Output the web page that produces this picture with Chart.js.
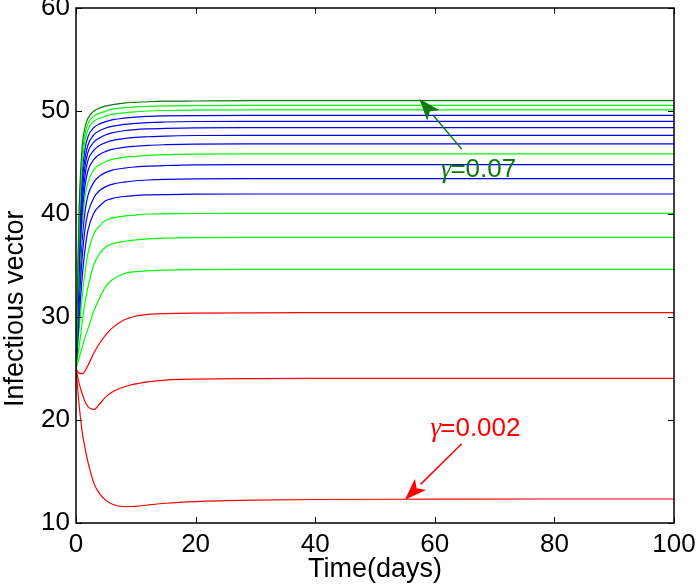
<!DOCTYPE html>
<html>
<head>
<meta charset="utf-8">
<script src="https://cdn.jsdelivr.net/npm/chart.js@4.4.1/dist/chart.umd.min.js"></script>
<style>
  html, body { margin: 0; padding: 0; background: #fff; }
  #wrap { width: 696px; height: 586px; position: relative; }
</style>
</head>
<body>
<div id="wrap"><canvas id="c" width="696" height="586"></canvas></div>
<script>
// time samples (days)
const times = [0, 0.5, 1, 1.5, 2, 3, 4, 5, 6, 8, 10, 12, 15, 20, 30, 40, 60, 80, 100];

// series values (top to bottom at t = 100)
const curve01 = [25, 40.1, 46.3, 48.4, 49.3, 50.0, 50.3, 50.5, 50.6, 50.77, 50.84, 50.9, 50.95, 50.97, 51.0, 51.0, 51.0, 51.0, 51.0];
const curve02 = [25, 39.1, 45.4, 47.7, 48.8, 49.5, 49.8, 50.0, 50.17, 50.3, 50.4, 50.45, 50.5, 50.52, 50.55, 50.55, 50.55, 50.55, 50.55];
const curve03 = [25, 38.3, 44.6, 47.1, 48.2, 49.0, 49.3, 49.5, 49.67, 49.82, 49.92, 50.0, 50.05, 50.08, 50.1, 50.1, 50.1, 50.1, 50.1];
const curve04 = [25, 37.3, 43.7, 46.3, 47.5, 48.4, 48.75, 48.97, 49.14, 49.3, 49.41, 49.48, 49.53, 49.56, 49.58, 49.58, 49.58, 49.58, 49.58];
const curve05 = [25, 36.5, 42.8, 45.4, 46.7, 47.7, 48.1, 48.35, 48.5, 48.7, 48.8, 48.88, 48.93, 48.98, 49.0, 49.0, 49.0, 49.0, 49.0];
const curve06 = [25, 35.8, 41.8, 44.6, 46.0, 47.0, 47.4, 47.7, 47.87, 48.08, 48.2, 48.26, 48.31, 48.36, 48.38, 48.38, 48.38, 48.38, 48.38];
const curve07 = [25, 35.0, 40.8, 43.7, 45.2, 46.2, 46.67, 46.94, 47.12, 47.32, 47.44, 47.5, 47.57, 47.62, 47.64, 47.64, 47.64, 47.64, 47.64];
const curve08 = [25, 34.2, 39.8, 42.7, 44.2, 45.3, 45.8, 46.08, 46.28, 46.47, 46.58, 46.67, 46.73, 46.78, 46.8, 46.8, 46.8, 46.8, 46.8];
const curve09 = [25, 33.3, 38.7, 41.6, 43.1, 44.3, 44.8, 45.1, 45.3, 45.5, 45.6, 45.7, 45.77, 45.81, 45.83, 45.83, 45.83, 45.83, 45.83];
const curve10 = [25, 32.3, 37.3, 40.2, 41.8, 43.1, 43.7, 44.04, 44.24, 44.45, 44.57, 44.65, 44.71, 44.77, 44.79, 44.79, 44.79, 44.79, 44.79];
const curve11 = [25, 31.1, 35.5, 38.5, 40.1, 41.6, 42.3, 42.66, 42.88, 43.1, 43.23, 43.3, 43.36, 43.41, 43.43, 43.43, 43.43, 43.43, 43.43];
const curve12 = [25, 29.7, 33.6, 36.5, 38.4, 40.1, 40.8, 41.3, 41.5, 41.7, 41.8, 41.86, 41.89, 41.92, 41.94, 41.94, 41.94, 41.94, 41.94];
const curve13 = [25, 28.6, 31.8, 34.3, 36.2, 38.1, 38.9, 39.4, 39.6, 39.8, 39.9, 40.0, 40.02, 40.05, 40.07, 40.07, 40.07, 40.07, 40.07];
const curve14 = [25, 27.0, 29.3, 31.4, 32.9, 35.1, 36.2, 36.8, 37.1, 37.33, 37.49, 37.59, 37.66, 37.71, 37.74, 37.74, 37.74, 37.74, 37.74];
const curve15 = [25, 25.96, 27.0, 28.0, 28.85, 30.6, 31.9, 33.0, 33.6, 34.2, 34.4, 34.49, 34.55, 34.6, 34.63, 34.63, 34.63, 34.63, 34.63];
const curve16 = [25, 24.55, 24.5, 24.75, 25.3, 26.5, 27.5, 28.3, 28.9, 29.7, 30.1, 30.25, 30.33, 30.38, 30.41, 30.42, 30.42, 30.42, 30.42];
const curve17 = [25, 23.6, 22.6, 21.8, 21.3, 21.0, 21.6, 22.25, 22.7, 23.2, 23.5, 23.7, 23.88, 23.97, 24.02, 24.04, 24.05, 24.05, 24.05];
const curve18 = [25, 21.6, 19.0, 17.3, 15.9, 13.85, 12.8, 12.2, 11.85, 11.6, 11.62, 11.75, 11.92, 12.08, 12.22, 12.28, 12.31, 12.33, 12.33];

const allCurves = [curve01, curve02, curve03, curve04, curve05, curve06, curve07, curve08, curve09,
                   curve10, curve11, curve12, curve13, curve14, curve15, curve16, curve17, curve18];
const curveColorKeys = ['dg','g','g','b','b','b','b','b','g','b','b','b','g','g','g','r','r','r'];

const xTicks = [0, 20, 40, 60, 80, 100];
const yTicks = [10, 20, 30, 40, 50, 60];
const yTitle = 'Infectious vector';
const yTitleCenterValue = 30.8;   // where the y label sits along the axis

// annotations (data coordinates)
const annoHigh = { label: '=0.07', from: [64.5, 46.3], to: [57.4, 51.2], textAt: [61.0, 43.6] };
const annoLow  = { label: '=0.002', from: [64.5, 17.7], to: [55.0, 12.25], textAt: [59.3, 18.45] };

const palette = { dg: '#0a7a0a', g: '#00ff00', b: '#0000ff', r: '#ff0000' };
const FONT = '"Liberation Sans", Arial, Helvetica, sans-serif';

const datasets = allCurves.map((vals, i) => ({
  data: times.map((t, j) => ({ x: t, y: vals[j] })),
  borderColor: palette[curveColorKeys[i]],
  borderWidth: 1.2,
  pointRadius: 0,
  fill: false,
  cubicInterpolationMode: 'monotone'
}));

function arrow(ctx, x1, y1, x2, y2, color, len, half) {
  ctx.save();
  ctx.strokeStyle = color; ctx.fillStyle = color; ctx.lineWidth = 1.5;
  const a = Math.atan2(y2 - y1, x2 - x1);
  const bx = x2 - len * Math.cos(a), by = y2 - len * Math.sin(a);
  ctx.beginPath(); ctx.moveTo(x1, y1); ctx.lineTo(bx, by); ctx.stroke();
  ctx.beginPath();
  ctx.moveTo(x2, y2);
  ctx.lineTo(bx + half * Math.sin(a), by - half * Math.cos(a));
  ctx.lineTo(x2 - 0.75 * len * Math.cos(a), y2 - 0.75 * len * Math.sin(a));
  ctx.lineTo(bx - half * Math.sin(a), by + half * Math.cos(a));
  ctx.closePath(); ctx.fill();
  ctx.restore();
}

const framePlugin = {
  id: 'frame',
  afterDatasetsDraw(chart) {
    const { ctx, chartArea: ca, scales } = chart;
    const xs = scales.x, ys = scales.y;
    ctx.save();
    ctx.strokeStyle = '#000'; ctx.lineWidth = 1.5;
    ctx.strokeRect(ca.left, ca.top, ca.right - ca.left, ca.bottom - ca.top);
    ctx.lineWidth = 1;
    const tl = 6;
    ctx.beginPath();
    xTicks.forEach(v => {
      const px = Math.round(xs.getPixelForValue(v)) + 0.5;
      ctx.moveTo(px, ca.bottom); ctx.lineTo(px, ca.bottom - tl);
      ctx.moveTo(px, ca.top); ctx.lineTo(px, ca.top + tl);
    });
    yTicks.forEach(v => {
      const py = Math.round(ys.getPixelForValue(v)) + 0.5;
      ctx.moveTo(ca.left, py); ctx.lineTo(ca.left + tl, py);
      ctx.moveTo(ca.right, py); ctx.lineTo(ca.right - tl, py);
    });
    ctx.stroke();
    ctx.restore();

    // y axis label
    ctx.save();
    ctx.translate(23, ys.getPixelForValue(yTitleCenterValue));
    ctx.rotate(-Math.PI / 2);
    ctx.fillStyle = '#000';
    ctx.font = '27px ' + FONT;
    ctx.textAlign = 'center';
    ctx.textBaseline = 'alphabetic';
    ctx.fillText(yTitle, 0, 0);
    ctx.restore();

    // annotations
    const drawAnno = (an, color) => {
      arrow(ctx, xs.getPixelForValue(an.from[0]), ys.getPixelForValue(an.from[1]),
            xs.getPixelForValue(an.to[0]), ys.getPixelForValue(an.to[1]), color, 22, 8);
      ctx.save();
      ctx.fillStyle = color;
      ctx.textBaseline = 'alphabetic';
      let tx = xs.getPixelForValue(an.textAt[0]);
      const ty = ys.getPixelForValue(an.textAt[1]);
      ctx.font = 'italic 27px "Liberation Serif", "DejaVu Serif", serif';
      ctx.fillText('γ', tx, ty);
      tx += ctx.measureText('γ').width - 1;
      ctx.font = '26px ' + FONT;
      ctx.fillText(an.label, tx, ty);
      ctx.restore();
    };
    drawAnno(annoHigh, '#0a7a0a');
    drawAnno(annoLow, '#ff0000');
  }
};

new Chart(document.getElementById('c'), {
  type: 'line',
  data: { datasets },
  options: {
    responsive: false,
    animation: false,
    events: [],
    layout: { padding: { top: 8, right: 22, left: 0, bottom: 0 } },
    plugins: { legend: { display: false }, tooltip: { enabled: false } },
    scales: {
      x: {
        type: 'linear', min: 0, max: 100,
        afterBuildTicks: s => { s.ticks = xTicks.map(v => ({ value: v })); },
        afterFit: s => { s.height = 63; s.paddingLeft = 0; s.paddingRight = 0; },
        grid: { display: false, drawTicks: false },
        border: { display: false },
        ticks: { color: '#000', font: { family: FONT, size: 26 }, padding: 6, maxRotation: 0 },
        title: { display: true, text: 'Time(days)', color: '#000', font: { family: FONT, size: 27 }, padding: { top: -5, bottom: 0 } }
      },
      y: {
        type: 'linear', min: 10, max: 60,
        afterBuildTicks: s => { s.ticks = yTicks.map(v => ({ value: v })); },
        afterFit: s => { s.width = 76; s.paddingTop = 0; s.paddingBottom = 0; },
        grid: { display: false, drawTicks: false },
        border: { display: false },
        ticks: { color: '#000', font: { family: FONT, size: 26 }, padding: 6 },
        title: { display: false }
      }
    }
  },
  plugins: [framePlugin]
});
</script>
</body>
</html>
